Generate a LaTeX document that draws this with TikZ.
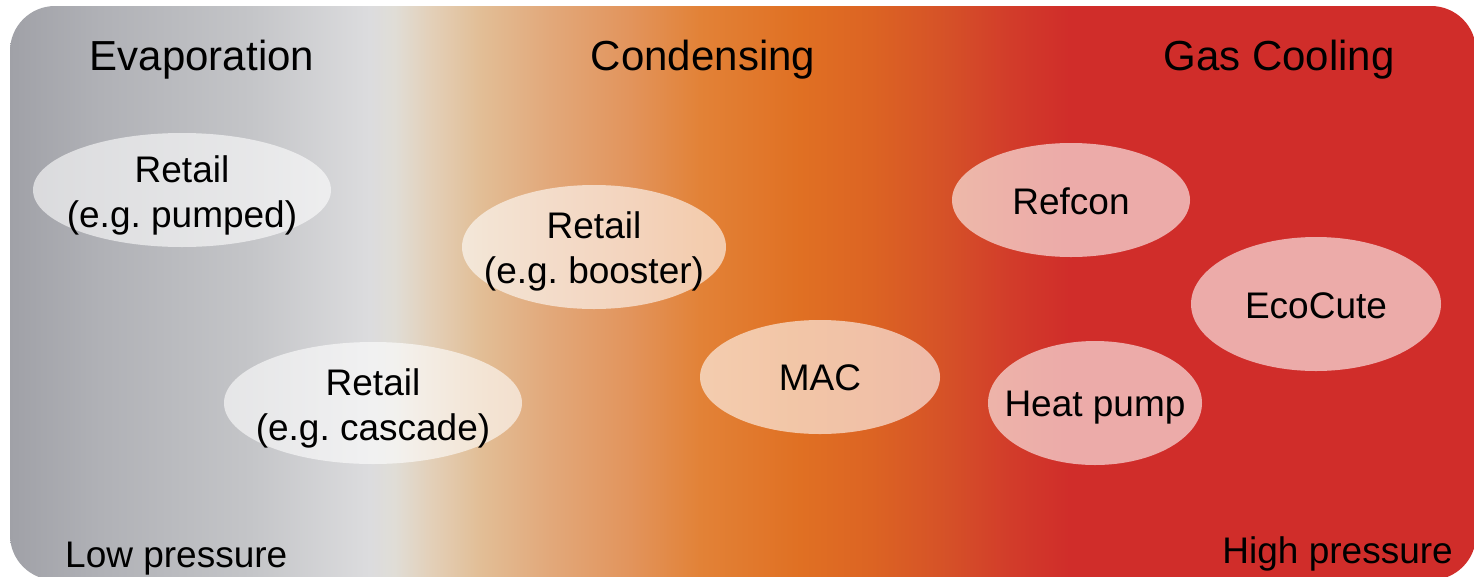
\documentclass[tikz,border=0pt]{standalone}
\usepackage{fontspec}
\setmainfont{Liberation Sans}
\usetikzlibrary{shapes.geometric}
\frenchspacing

% colour stops of the pressure band, from cold (left) to hot (right)
\definecolor{bandA}{RGB}{160,161,167}
\definecolor{bandB}{RGB}{176,177,182}
\definecolor{bandC}{RGB}{196,197,200}
\definecolor{bandD}{RGB}{220,220,222}
\definecolor{bandE}{RGB}{224,221,214}
\definecolor{bandF}{RGB}{227,208,185}
\definecolor{bandG}{RGB}{226,190,150}
\definecolor{bandH}{RGB}{226,168,122}
\definecolor{bandI}{RGB}{226,148,92}
\definecolor{bandJ}{RGB}{226,130,55}
\definecolor{bandK}{RGB}{224,112,35}
\definecolor{bandL}{RGB}{220,100,35}
\definecolor{bandM}{RGB}{213,80,40}
\definecolor{bandN}{RGB}{210,60,42}
\definecolor{bandO}{RGB}{208,45,42}

% the band occupies 25bp..75bp of the shading once fitted to the path
\pgfdeclarehorizontalshading{pressureband}{100bp}{%
  color(0bp)=(bandA); color(25bp)=(bandA);
  color(28.07bp)=(bandB); color(33.19bp)=(bandC);
  color(37.28bp)=(bandD); color(38.13bp)=(bandE);
  color(39.32bp)=(bandF); color(41.03bp)=(bandG);
  color(43.42bp)=(bandH); color(46.15bp)=(bandI);
  color(48.53bp)=(bandJ); color(51.94bp)=(bandK);
  color(54.33bp)=(bandL); color(57.06bp)=(bandM);
  color(59.11bp)=(bandN); color(61.15bp)=(bandO);
  color(75bp)=(bandO); color(100bp)=(bandO)}

\begin{document}
\begin{tikzpicture}[x=1pt,y=-1pt,
  bubble/.style={ellipse, inner sep=0pt, draw=none, fill=white, fill opacity=0.6},
  bubbletext/.style={font=\fontsize{37}{45}\selectfont, align=center, inner sep=0pt},
  heading/.style={font=\fontsize{42}{50}\selectfont, anchor=base, inner sep=0pt},
  pressurelabel/.style={font=\fontsize{37}{44}\selectfont, inner sep=0pt}]
\useasboundingbox (0,0) rectangle (1474,576);

% background band
\path[shading=pressureband, rounded corners=45pt] (10,6) rectangle (1476,580);

% region headings
\node[heading] (evap) at (202,70) {Evaporation};
\node[heading] (cond) at (703,70) {Condensing};
\node[heading] (gascool) at (1279,70) {Gas Cooling};

% application bubbles
\node[bubble, minimum width=298pt, minimum height=114pt] (pumped) at (182,190) {};
\node[bubble, minimum width=264pt, minimum height=124pt] (booster) at (594,247) {};
\node[bubble, minimum width=298pt, minimum height=122pt] (cascade) at (373,403) {};
\node[bubble, minimum width=240pt, minimum height=114pt] (mac) at (820,377) {};
\node[bubble, minimum width=238pt, minimum height=114pt] (refcon) at (1071,200) {};
\node[bubble, minimum width=250pt, minimum height=134pt] (ecocute) at (1316,304) {};
\node[bubble, minimum width=214pt, minimum height=124pt] (heatpump) at (1095,403) {};

% bubble labels
\node[bubbletext] (pumpedtxt) at (182,195) {Retail\\(e.g. pumped)};
\node[bubbletext] (boostertxt) at (594,251) {Retail\\(e.g. booster)};
\node[bubbletext] (cascadetxt) at (373,408) {Retail\\(e.g. cascade)};
\node[bubbletext] (mactxt) at (820,377.5) {MAC};
\node[bubbletext] (refcontxt) at (1071,201.5) {Refcon};
\node[bubbletext] (ecocutetxt) at (1316,305.7) {EcoCute};
\node[bubbletext] (heatpumptxt) at (1095,407.4) {Heat pump};

% pressure scale ends
\node[pressurelabel, anchor=base west] (low) at (65,567) {Low pressure};
\node[pressurelabel, anchor=base east] (high) at (1453,563) {High pressure};
\end{tikzpicture}
\end{document}
